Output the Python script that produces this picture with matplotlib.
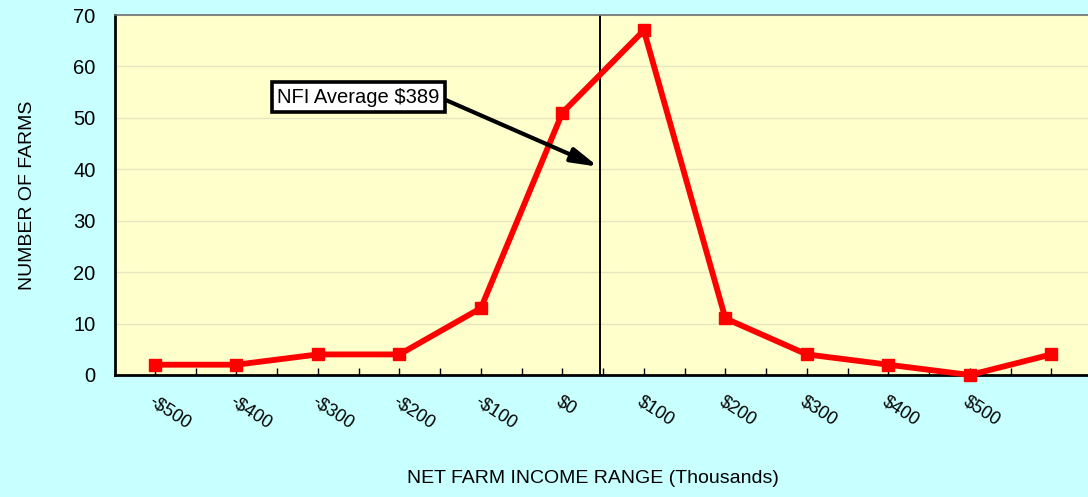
import numpy as np
import matplotlib
matplotlib.use('Agg')
import matplotlib.pyplot as plt
from matplotlib.ticker import MultipleLocator

plt.rcParams['font.family'] = ['Liberation Sans', 'DejaVu Sans']

# ── Data ─────────────────────────────────────────────────────────
income_labels = ["-$500", "-$400", "-$300", "-$200", "-$100", "$0",
                 "$100", "$200", "$300", "$400", "$500", ""]
farm_counts = [2, 2, 4, 4, 13, 51, 67, 11, 4, 2, 0, 4]
nfi_label = "NFI Average $389"
nfi_position = 5.46      # category position of the average line
arrow_target_y = 40.5

# ── Figure ───────────────────────────────────────────────────────
fig = plt.figure(figsize=(10.88, 4.97), dpi=100, facecolor='#C8FFFF')
ax = fig.add_axes([0.1057, 0.2455, 0.8943, 0.7243])
ax.set_facecolor('#FFFFCC')

x = np.arange(len(farm_counts))
ax.plot(x, farm_counts, color='#FF0000', linewidth=4.2, marker='s',
        markersize=8, zorder=3, clip_on=False)

# average line
ax.axvline(nfi_position, color='black', linewidth=1.4, zorder=2)

ax.annotate(nfi_label, xy=(nfi_position - 0.02, arrow_target_y),
            xytext=(1.5, 54.0), fontsize=14.5, va='center', ha='left',
            bbox=dict(boxstyle='square,pad=0.28', facecolor='white',
                      edgecolor='black', linewidth=2.6),
            arrowprops=dict(arrowstyle='-|>,head_length=1.1,head_width=0.3',
                            color='black', linewidth=3.0, shrinkA=0, shrinkB=0,
                            relpos=(1.0, 0.5)),
            zorder=4)

# axes
ax.set_xlim(-0.49, 11.45)
ax.set_ylim(0, 70)
ax.yaxis.set_major_locator(MultipleLocator(10))
ax.grid(axis='y', color='#E6E6C0', linewidth=1.0, zorder=0)
ax.set_axisbelow(True)

ax.set_xticks(x)
ax.set_xticks(np.arange(0.5, 11, 1.0), minor=True)
ax.set_xticklabels(income_labels, rotation=-33, ha='left', va='top',
                   rotation_mode='anchor', fontsize=13)
ax.tick_params(axis='x', which='both', direction='in', length=5,
               width=1.0, pad=13)
ax.tick_params(axis='y', length=0, pad=14, labelsize=14.5)

for side in ['left', 'bottom']:
    ax.spines[side].set_linewidth(2.0)
    ax.spines[side].set_color('black')
ax.spines['top'].set_color('#707070')
ax.spines['top'].set_linewidth(1.2)
ax.spines['right'].set_visible(False)

ax.set_ylabel('NUMBER OF FARMS', fontsize=14, labelpad=27)
fig.text(0.545, 0.038, 'NET FARM INCOME RANGE (Thousands)', ha='center',
         va='center', fontsize=14)

plt.savefig('out.png', dpi=100, facecolor='#C8FFFF')
plt.close()
